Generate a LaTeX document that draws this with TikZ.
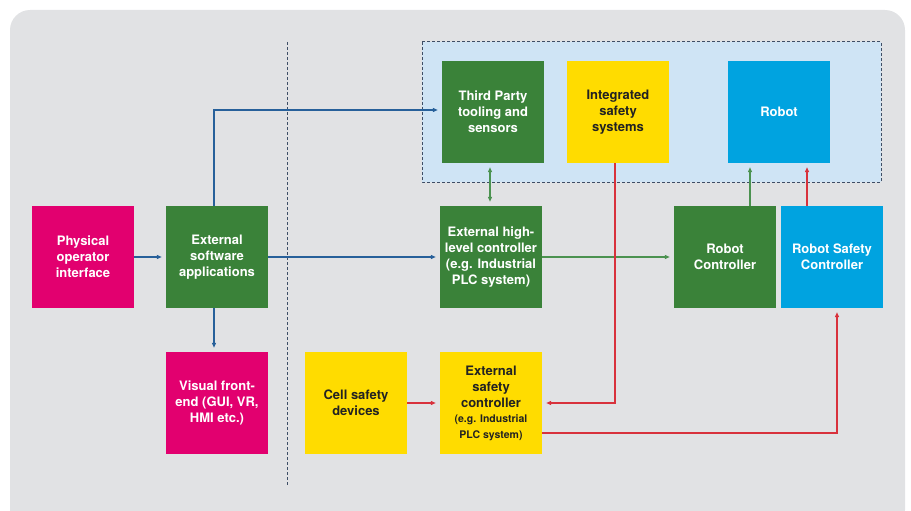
\documentclass[tikz,border=0pt]{standalone}
\usepackage{fontspec}
\setmainfont{TeX Gyre Heros}
\usetikzlibrary{arrows.meta}
\definecolor{cbg}{HTML}{E1E2E4}
\definecolor{cmag}{HTML}{E2006F}
\definecolor{cgreen}{HTML}{3A8239}
\definecolor{cyel}{HTML}{FFDC00}
\definecolor{ccyan}{HTML}{00A3E0}
\definecolor{clight}{HTML}{CFE4F5}
\definecolor{cdash}{HTML}{3E4E66}
\definecolor{cblue}{HTML}{27609A}
\definecolor{cgarr}{HTML}{4B9250}
\definecolor{cred}{HTML}{D8323C}
\definecolor{ctext}{HTML}{222222}
\tikzset{
  box/.style={rectangle, minimum width=102pt, minimum height=102pt, inner sep=0pt,
    align=center, font=\fontsize{13}{16}\selectfont\bfseries},
  magbox/.style={box, fill=cmag, text=white},
  grnbox/.style={box, fill=cgreen, text=white},
  yelbox/.style={box, fill=cyel, text=ctext},
  cyanbox/.style={box, fill=ccyan, text=white},
  conn/.style={line width=1.2pt, -{Triangle[length=5pt,width=4pt]}, shorten >=4pt},
  barrow/.style={conn, draw=cblue},
  garrow/.style={conn, draw=cgarr},
  rarrow/.style={conn, draw=cred},
}
\begin{document}
\begin{tikzpicture}[x=1pt,y=-1pt]
\useasboundingbox (0,0) rectangle (911,511);
\clip (0,0) rectangle (911,511);
\fill[cbg, rounded corners=20pt] (10,10) rectangle (905,530);
\draw[cdash, line width=1pt, dash pattern=on 3pt off 2pt] (287,42) coordinate (dvt) -- (287,485) coordinate (dvb);
\draw[cdash, fill=clight, line width=1pt, dash pattern=on 3pt off 2pt] (422,42) rectangle (881,182);

\node[magbox] (poi) at (83,257) {Physical\\operator\\interface};
\node[grnbox] (esa) at (217,257) {External\\software\\applications};
\node[magbox] (vfe) at (217,403) {Visual front-\\end (GUI, VR,\\HMI etc.)};
\node[yelbox] (csd) at (356,403) {Cell safety\\devices};
\node[yelbox] (esc) at (491,403) {External\\safety\\controller\\[-1pt]{\fontsize{10.5}{13.5}\selectfont (e.g. Industrial}\\{\fontsize{10.5}{13.5}\selectfont PLC system)}};
\node[grnbox] (ehc) at (491,257) {External high-\\level controller\\(e.g. Industrial\\PLC system)};
\node[grnbox] (tpt) at (493,112) {Third Party\\tooling and\\sensors};
\node[yelbox] (iss) at (618,112) {Integrated\\safety\\systems};
\node[cyanbox] (rob) at (779,112) {Robot};
\node[grnbox] (rc) at (725,257) {Robot\\Controller};
\node[cyanbox] (rsc) at (832,257) {Robot Safety\\Controller};

\draw[barrow] (poi.east) -- (esa.west);
\draw[barrow] (esa.east) -- (ehc.west);
\draw[barrow] ([xshift=-3pt]esa.north) |- ([yshift=2pt]tpt.west);
\draw[barrow] ([xshift=-3pt]esa.south) -- ([xshift=-3pt]vfe.north);
\draw[garrow, {Triangle[length=5pt,width=4pt]}-{Triangle[length=5pt,width=4pt]}, shorten <=4pt] ([xshift=-1pt]ehc.north) -- ([xshift=-3pt]tpt.south);
\draw[garrow] (ehc.east) -- (rc.west);
\draw[rarrow] ([xshift=-3pt]iss.south) |- (esc.east);
\draw[rarrow] (csd.east) -- (esc.west);
\draw[rarrow] ([yshift=-30pt]esc.east) -| ([xshift=5pt]rsc.south);
\draw[garrow] ([xshift=25pt]rc.north) -- ([xshift=-29pt]rob.south);
\draw[rarrow] ([xshift=-25pt]rsc.north) -- ([xshift=28pt]rob.south);
\end{tikzpicture}
\end{document}
